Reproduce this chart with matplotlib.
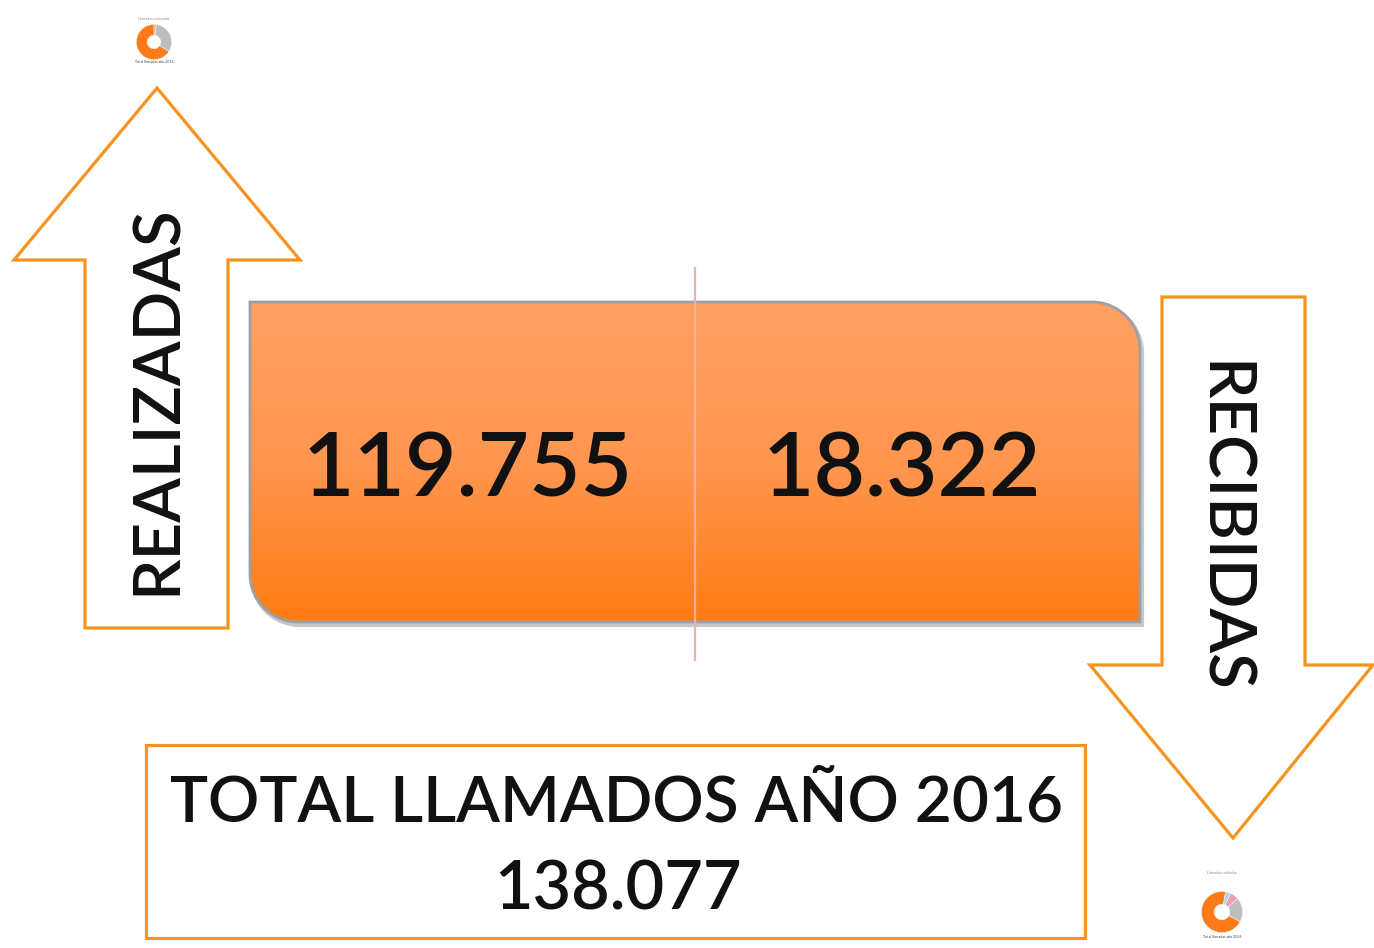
import numpy as np
import matplotlib
matplotlib.use("Agg")
import matplotlib.pyplot as plt
from matplotlib.path import Path
from matplotlib.patches import PathPatch, Polygon, Rectangle
from matplotlib.colors import LinearSegmentedColormap
import matplotlib.transforms as mtransforms

# ---- data ----
labels = ["REALIZADAS", "RECIBIDAS"]
values = [119755, 18322]
total_label = "TOTAL LLAMADOS AÑO 2016"
total_value = 138077
thumb_left_vals = [66, 32, 2]
thumb_right_vals = [70, 19, 7, 4]

def fmt(v):
    return f"{v:,}".replace(",", ".")

FONT = ["Lato", "DejaVu Sans"]
WEIGHT = "semibold"
ORANGE = "#f7931e"
INK = "#111111"

W, H = 1374, 948
fig = plt.figure(figsize=(W / 100, H / 100), dpi=100)
ax = fig.add_axes([0, 0, 1, 1])

# ---- main rounded box (square TL/BR, rounded TR/BL) ----
x0, x1, y0, y1, r = 250, 1140, 302, 622, 48
k = 0.5523 * r
verts = [(x0, y0), (x1 - r, y0),
         (x1 - r + k, y0), (x1, y0 + r - k), (x1, y0 + r),
         (x1, y1), (x0 + r, y1),
         (x0 + r - k, y1), (x0, y1 - r + k), (x0, y1 - r),
         (x0, y0)]
codes = [Path.MOVETO, Path.LINETO, Path.CURVE4, Path.CURVE4, Path.CURVE4,
         Path.LINETO, Path.LINETO, Path.CURVE4, Path.CURVE4, Path.CURVE4,
         Path.CLOSEPOLY]
box_path = Path(verts, codes)

shadow = PathPatch(box_path.transformed(mtransforms.Affine2D().translate(2, 3)),
                   facecolor="#b8b8b8", edgecolor="#c8c8c8", lw=3, zorder=1)
ax.add_patch(shadow)
cmap = LinearSegmentedColormap.from_list("g", ["#ffa062", "#ff9650", "#ff7c14"])
grad = np.linspace(0, 1, 256).reshape(-1, 1)
im = ax.imshow(grad, cmap=cmap, extent=[x0, x1, y1, y0], aspect="auto", zorder=2)
clip = PathPatch(box_path, facecolor="none", edgecolor="none", transform=ax.transData)
ax.add_patch(clip)
im.set_clip_path(clip)
ax.add_patch(PathPatch(box_path, facecolor="none", edgecolor="#9aa0a6", lw=2.0, zorder=3))

# divider line
ax.plot([695, 695], [268, 660], color="#eeb0b0", lw=1.6, zorder=4)

# values in box
ax.text(468, 471, fmt(values[0]), fontsize=64, family=FONT, weight=WEIGHT,
        ha="center", va="center", color=INK, zorder=5)
ax.text(902, 471, fmt(values[1]), fontsize=64, family=FONT, weight=WEIGHT,
        ha="center", va="center", color=INK, zorder=5)

# ---- up arrow (left) ----
up = [(157, 88), (300, 260), (228, 260), (228, 628), (85, 628), (85, 260), (14, 260)]
ax.add_patch(Polygon(up, closed=True, facecolor="white", edgecolor=ORANGE, lw=2.3, zorder=2))
ax.text(157, 400, labels[0], rotation=90, fontsize=47, family=FONT, weight=WEIGHT,
        ha="center", va="center", color=INK, zorder=5)

# ---- down arrow (right) ----
down = [(1162, 297), (1305, 297), (1305, 665), (1373, 665), (1233, 838), (1090, 665), (1162, 665)]
ax.add_patch(Polygon(down, closed=True, facecolor="white", edgecolor=ORANGE, lw=2.3, zorder=2))
ax.text(1221, 527, labels[1], rotation=-90, fontsize=47, family=FONT, weight=WEIGHT,
        ha="center", va="center", color=INK, zorder=5)

# ---- total box ----
ax.add_patch(Rectangle((146, 745), 939, 193, facecolor="white", edgecolor=ORANGE, lw=2.3, zorder=2))
ax.text(616, 804, total_label, fontsize=46, family=FONT, weight=WEIGHT,
        ha="center", va="center", color=INK, zorder=5)
ax.text(618, 891, fmt(total_value), fontsize=48, family=FONT, weight=WEIGHT,
        ha="center", va="center", color=INK, zorder=5)

ax.set_xlim(0, W)
ax.set_ylim(H, 0)
ax.axis("off")

# ---- thumbnail donuts ----
def thumb(cx, cy, rad, vals, cols, start, title_y, foot_y, title):
    a = fig.add_axes([(cx - rad) / W, 1 - (cy + rad) / H, 2 * rad / W, 2 * rad / H])
    a.pie(vals, colors=cols, startangle=start, counterclock=True, radius=1,
          wedgeprops=dict(width=0.62, edgecolor="white", linewidth=0.3))
    a.set_xlim(-1.02, 1.02)
    a.set_ylim(-1.02, 1.02)
    a.axis("off")
    ax.text(cx, title_y, title, fontsize=2.6, color="#888888",
            ha="center", va="center", family=FONT)
    ax.text(cx, foot_y, "Total llamadas año 2016", fontsize=2.6, color="#444444",
            ha="center", va="center", family=FONT)

thumb(154, 42, 18, thumb_left_vals, ["#ff7a1a", "#bdbdbd", "#f0a0a0"], 90, 19, 62,
      "Llamadas realizadas")
thumb(1222, 912, 21, thumb_right_vals, ["#ff7a1a", "#bdbdbd", "#f4a0b0", "#a8d8e8"], 80,
      873, 937, "Llamadas recibidas")

fig.savefig("out.png", dpi=100, facecolor="white")
